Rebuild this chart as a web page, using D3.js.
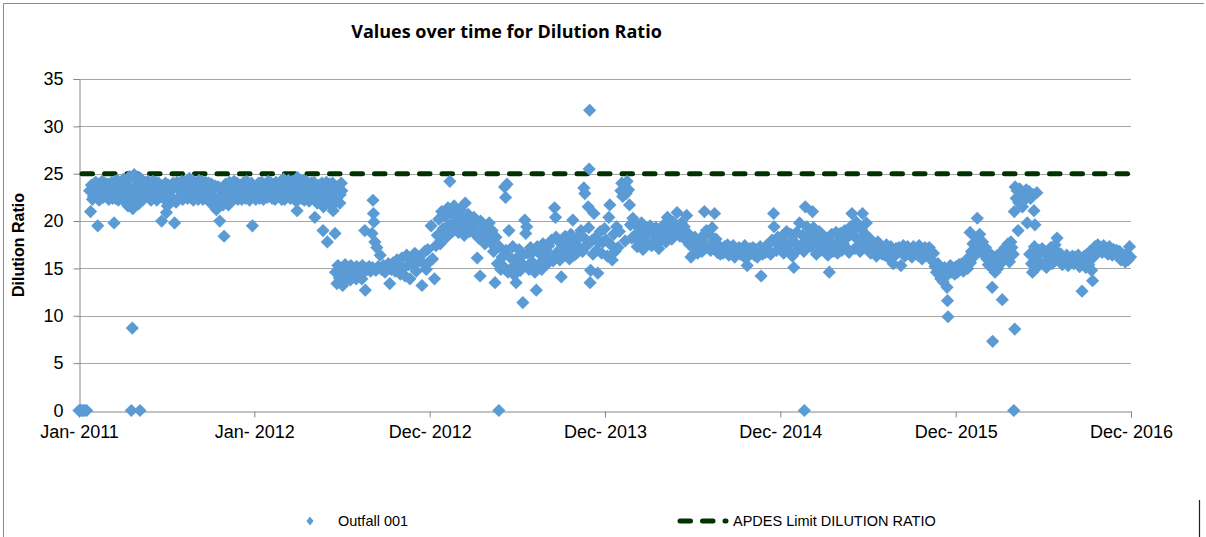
<!DOCTYPE html>
<html><head><meta charset="utf-8">
<script src="https://cdn.jsdelivr.net/npm/d3@7"></script>
<style>body{margin:0;background:#fff;} svg{display:block;}</style>
</head><body><svg id="chart" width="1206" height="537"></svg>
<script>
const chartTitle = "Values over time for Dilution Ratio";
const yAxisTitle = "Dilution Ratio";
const seriesName = "Outfall 001";
const limitName = "APDES Limit DILUTION RATIO";
const limitValue = 25;
const yTickValues = [0, 5, 10, 15, 20, 25, 30, 35];
const xTickDates = ["2011-01-01", "2012-01-01", "2012-12-31", "2013-12-31", "2014-12-31", "2015-12-31", "2016-12-30"];

const data2011 = [["01-01",0],["01-04",0],["01-07",0],["01-10",0],["01-13",0],["01-17",0],["01-23",23.2],["01-25",21.0],["01-27",23.8],["01-31",22.6],
["02-03",24.0],["02-06",22.9],["02-09",19.5],["02-10",23.5],["02-14",22.4],["02-18",24.2],["02-22",23.1],["02-26",22.6],
["03-02",23.9],["03-06",22.7],["03-10",24.1],["03-14",23.0],["03-15",19.8],["03-18",22.4],["03-22",24.3],["03-26",23.4],["03-30",22.5],
["04-03",24.4],["04-07",22.2],["04-10",23.6],["04-13",21.6],["04-16",24.7],["04-19",22.9],["04-20",0],["04-22",8.7],["04-23",21.3],["04-26",24.9],["04-29",22.0],
["05-02",23.8],["05-05",21.8],["05-08",0],["05-09",24.5],["05-13",22.6],["05-17",23.9],["05-21",22.9],["05-25",24.2],["05-29",22.4],
["06-02",23.6],["06-06",22.8],["06-10",24.1],["06-14",22.5],["06-18",23.4],["06-22",20.0],["06-26",22.9],["06-30",24.0],
["07-02",20.9],["07-04",21.6],["07-08",23.2],["07-12",22.3],["07-16",24.0],["07-19",19.8],["07-22",22.0],["07-26",23.5],["07-30",22.6],
["08-03",24.2],["08-07",22.8],["08-11",23.6],["08-15",22.4],["08-19",24.5],["08-23",23.0],["08-27",22.2],["08-31",23.9],
["09-04",22.7],["09-08",24.3],["09-12",23.1],["09-16",22.3],["09-20",23.8],["09-24",22.6],["09-28",24.0],
["10-02",21.9],["10-06",23.4],["10-10",22.2],["10-14",21.2],["10-18",23.6],["10-21",20.0],["10-24",22.8],["10-28",21.7],["10-30",18.4],
["11-02",23.9],["11-06",22.5],["11-08",21.7],["11-10",24.1],["11-14",22.8],["11-18",23.4],["11-22",22.4],["11-26",24.0],["11-30",23.0],
["12-04",22.5],["12-08",23.7],["12-12",22.9],["12-16",24.2],["12-20",22.6],["12-24",23.3],["12-28",19.5],["12-29",22.8]];

const band2011 = [["01-29",22.3],["02-01",23.4],["02-05",24.1],["02-12",22.2],["02-16",23.7],["02-20",22.5],["02-24",24.0],["02-28",23.2],
["03-04",22.3],["03-08",23.5],["03-12",22.4],["03-17",24.2],["03-20",23.0],["03-24",22.2],["03-28",24.0],
["04-01",22.8],["04-05",23.5],["04-09",21.9],["04-11",24.2],["04-15",22.4],["04-17",23.3],["04-25",22.1],["04-27",23.6],
["05-01",22.6],["05-04",24.4],["05-07",22.9],["05-11",23.5],["05-15",22.3],["05-19",24.1],["05-23",22.7],["05-27",23.5],["05-31",22.2],
["06-04",24.2],["06-08",23.0],["06-12",22.2],["06-16",24.0],["06-20",22.6],["06-24",23.7],["06-28",22.3],
["07-06",23.8],["07-10",22.5],["07-14",23.3],["07-18",22.2],["07-24",24.1],["07-28",22.4],
["08-01",23.2],["08-05",22.3],["08-09",24.2],["08-13",23.1],["08-17",22.5],["08-21",23.7],["08-25",24.3],["08-29",22.4],
["09-02",23.5],["09-06",22.3],["09-10",23.6],["09-14",24.2],["09-18",22.5],["09-22",24.1],["09-26",23.0],["09-30",22.3],
["10-04",23.9],["10-08",22.6],["10-12",23.7],["10-16",22.4],["10-20",21.6],["10-26",23.5],
["11-04",22.3],["11-12",23.1],["11-16",22.2],["11-20",24.2],["11-24",22.7],["11-28",22.3],
["12-02",23.8],["12-06",22.3],["12-10",24.1],["12-14",22.4],["12-18",23.5],["12-22",22.2],["12-26",24.0],["12-31",23.5]];

const data2012 = [["01-02",23.4],["01-06",22.6],["01-10",24.0],["01-14",23.1],["01-18",22.5],["01-22",23.8],["01-26",22.9],["01-30",24.2],
["02-03",23.0],["02-07",22.4],["02-11",23.7],["02-15",24.1],["02-19",22.8],["02-23",23.5],["02-27",22.3],
["03-02",24.4],["03-06",23.1],["03-10",22.6],["03-14",24.0],["03-18",22.9],["03-22",23.6],["03-26",22.2],["03-30",21.1],["03-31",24.6],
["04-04",23.0],["04-08",22.4],["04-12",24.3],["04-16",22.8],["04-20",23.6],["04-24",22.1],["04-28",24.0],
["05-02",22.7],["05-06",20.4],["05-07",23.4],["05-11",21.9],["05-15",23.8],["05-19",22.5],["05-23",19.0],["05-24",21.5],["05-28",23.2],
["06-01",17.8],["06-02",22.0],["06-06",23.9],["06-10",21.6],["06-13",21.1],["06-14",23.5],["06-17",18.7],["06-18",14.6],["06-20",22.4],["06-21",13.4],["06-23",15.3],["06-24",23.7],["06-26",14.0],["06-28",22.8],["06-29",15.0],["07-01",23.2],
["07-03",13.2],["07-05",14.8],["07-08",15.4],["07-11",14.2],["07-14",15.1],["07-17",14.6],["07-20",15.3],["07-23",14.4],["07-26",15.0],["07-29",14.7],
["08-01",15.2],["08-04",14.5],["08-07",15.0],["08-10",14.8],["08-13",15.3],["08-16",14.6],["08-18",19.0],["08-19",12.7],["08-21",15.0],["08-24",14.9],["08-27",15.2],["08-30",14.7],
["09-02",18.7],["09-03",15.1],["09-04",22.2],["09-05",20.8],["09-06",19.9],["09-08",17.8],["09-10",14.8],["09-12",17.2],["09-15",15.2],["09-19",16.4],["09-22",14.9],["09-26",15.3],["09-29",14.6],
["10-03",15.0],["10-06",15.5],["10-09",13.4],["10-12",14.9],["10-16",15.6],["10-20",14.7],["10-24",15.9],["10-28",15.2],["10-31",14.4],
["11-03",16.1],["11-06",15.0],["11-10",14.2],["11-13",16.4],["11-17",15.4],["11-20",13.9],["11-24",16.0],["11-27",15.2],["11-30",16.6],
["12-03",14.7],["12-07",15.8],["12-11",16.3],["12-15",13.2],["12-18",15.5],["12-21",16.8],["12-24",14.9],["12-27",17.0],["12-30",15.7]];

const band2012 = [["01-04",22.3],["01-08",23.5],["01-12",22.4],["01-16",24.1],["01-20",22.3],["01-24",23.2],["01-28",22.5],
["02-01",23.6],["02-05",24.0],["02-09",22.5],["02-13",22.3],["02-17",23.3],["02-21",22.6],["02-25",24.2],["02-29",23.3],
["03-04",22.3],["03-08",23.8],["03-12",24.3],["03-16",22.4],["03-20",24.2],["03-24",23.1],["03-28",24.4],
["04-02",22.3],["04-06",23.8],["04-10",22.9],["04-14",22.2],["04-18",24.2],["04-22",23.2],["04-26",22.6],["04-30",23.5],
["05-04",24.1],["05-09",22.3],["05-13",23.0],["05-17",22.2],["05-21",24.0],["05-26",22.3],["05-30",24.1],
["06-04",22.9],["06-08",22.3],["06-12",24.0],["06-16",22.7],["06-22",23.1],["06-27",21.9],["06-30",24.0],
["07-02",13.8],["07-07",13.9],["07-13",14.0],["07-19",13.8],["07-25",14.1],["07-31",13.9],["08-06",14.1],["08-12",13.9]];

const data2013 = [["01-03",19.5],["01-06",16.0],["01-10",13.9],["01-13",17.4],["01-16",18.5],["01-19",20.2],["01-22",17.6],["01-25",21.0],["01-28",19.2],
["02-01",20.5],["02-04",18.3],["02-07",21.4],["02-10",19.6],["02-11",24.2],["02-14",20.8],["02-17",18.9],["02-20",21.6],["02-23",19.9],["02-26",20.6],
["03-01",18.8],["03-04",21.2],["03-07",19.4],["03-10",20.3],["03-13",18.5],["03-15",21.9],["03-18",19.8],["03-21",20.7],["03-24",18.9],["03-27",20.1],["03-30",19.3],
["04-02",20.4],["04-05",18.6],["04-08",19.7],["04-09",16.1],["04-12",18.2],["04-15",14.2],["04-16",20.0],["04-19",18.9],["04-22",19.6],["04-25",17.6],["04-28",19.2],
["05-01",18.4],["05-04",19.8],["05-07",17.7],["05-10",19.0],["05-13",16.8],["05-16",13.5],["05-18",18.3],["05-21",15.5],["05-24",0],["05-25",17.3],["05-28",14.9],["05-31",16.2],
["06-03",15.2],["06-05",23.6],["06-07",22.5],["06-08",16.9],["06-10",23.9],["06-12",14.6],["06-14",19.0],["06-16",16.2],["06-19",15.0],["06-22",17.3],["06-25",14.3],["06-28",16.0],["06-29",13.5],
["07-02",15.6],["07-05",17.0],["07-08",14.8],["07-11",16.3],["07-13",11.4],["07-15",15.3],["07-17",20.1],["07-19",18.7],["07-21",19.4],["07-23",16.6],["07-26",14.9],["07-29",17.2],
["08-01",15.7],["08-04",16.8],["08-07",14.6],["08-10",12.7],["08-12",17.3],["08-15",15.4],["08-18",16.5],["08-21",14.9],["08-24",17.6],["08-27",15.8],["08-30",16.9],
["09-02",15.5],["09-05",17.4],["09-08",16.2],["09-11",18.0],["09-14",15.8],["09-17",21.4],["09-19",20.4],["09-20",18.3],["09-22",16.7],["09-25",17.9],["09-28",15.9],
["10-01",14.1],["10-03",17.5],["10-06",16.3],["10-09",18.4],["10-12",16.9],["10-15",17.8],["10-18",16.0],["10-21",18.6],["10-24",17.1],["10-25",20.1],["10-28",16.4],["10-31",18.0],
["11-02",16.6],["11-05",18.3],["11-08",17.2],["11-11",19.0],["11-14",16.8],["11-17",23.5],["11-19",22.9],["11-20",18.1],["11-23",17.4],["11-26",21.5],["11-27",19.3],["11-28",25.5],["11-29",31.7],["11-30",13.5],
["12-01",14.8],["12-03",17.9],["12-06",16.5],["12-08",20.8],["12-10",18.2],["12-13",16.9],["12-16",14.5],["12-18",17.7],["12-21",18.9],["12-24",16.6],["12-27",17.8],["12-30",19.2]];

const data2014 = [["01-02",18.0],["01-05",16.3],["01-08",20.4],["01-10",21.7],["01-12",17.5],["01-15",15.9],["01-18",18.6],["01-21",16.8],["01-24",19.4],["01-27",17.2],["01-30",18.9],
["02-02",23.2],["02-04",24.0],["02-06",22.6],["02-09",23.8],["02-11",17.9],["02-13",22.9],["02-15",24.2],["02-18",23.3],["02-20",21.7],["02-22",19.6],["02-25",18.2],["02-27",20.3],
["03-02",18.4],["03-05",19.6],["03-08",17.3],["03-11",18.9],["03-14",17.8],["03-17",19.8],["03-20",17.0],["03-23",18.5],["03-26",19.2],["03-29",17.6],
["04-01",18.7],["04-04",19.5],["04-07",17.4],["04-10",18.9],["04-13",17.9],["04-16",19.3],["04-19",18.2],["04-22",17.1],["04-25",19.0],["04-28",18.0],
["05-01",18.5],["05-04",19.7],["05-07",17.8],["05-10",20.4],["05-13",18.8],["05-16",19.5],["05-19",18.1],["05-22",19.9],["05-25",18.6],["05-28",19.2],["05-30",20.9],
["06-02",19.3],["06-05",18.4],["06-08",19.8],["06-11",18.9],["06-14",19.4],["06-17",18.0],["06-19",20.6],["06-22",18.7],["06-25",17.5],["06-28",16.2],["06-30",17.9],
["07-03",16.5],["07-06",18.3],["07-09",17.1],["07-12",16.6],["07-15",18.0],["07-18",17.3],["07-21",16.8],["07-24",18.5],["07-26",21.0],["07-28",17.6],["07-30",19.0],
["08-02",17.2],["08-05",18.6],["08-08",16.9],["08-11",19.3],["08-14",17.7],["08-16",20.8],["08-19",18.1],["08-22",16.7],["08-25",17.4],["08-28",16.5],["08-31",17.0],
["09-03",16.6],["09-06",17.3],["09-09",16.9],["09-12",17.5],["09-15",16.4],["09-18",17.1],["09-21",16.8],["09-24",17.4],["09-27",16.2],["09-30",17.0],
["10-03",16.7],["10-06",17.2],["10-09",16.5],["10-12",17.0],["10-15",16.3],["10-18",17.4],["10-21",16.1],["10-23",15.3],["10-26",16.8],["10-29",17.1],
["11-01",16.6],["11-04",17.2],["11-07",16.4],["11-10",17.0],["11-13",16.2],["11-16",16.9],["11-19",17.3],["11-21",14.2],["11-24",16.5],["11-27",17.1],["11-30",16.7],
["12-02",17.4],["12-05",16.8],["12-08",17.6],["12-11",16.5],["12-14",18.0],["12-17",20.8],["12-18",19.4],["12-20",17.9],["12-23",16.9],["12-26",18.3],["12-29",17.5]];

const data2015 = [["01-01",17.2],["01-04",18.4],["01-07",16.6],["01-10",17.8],["01-13",18.9],["01-16",16.9],["01-19",17.5],["01-22",18.6],["01-25",16.3],["01-28",15.1],["01-31",17.7],
["02-03",18.8],["02-06",17.0],["02-09",19.8],["02-12",17.4],["02-15",18.5],["02-18",16.8],["02-19",0],["02-21",21.5],["02-24",19.4],["02-27",17.9],
["03-02",18.7],["03-05",17.3],["03-08",21.0],["03-10",19.3],["03-13",18.0],["03-16",16.5],["03-19",17.8],["03-22",18.9],["03-25",16.9],["03-28",17.6],["03-31",18.4],
["04-03",17.0],["04-06",18.2],["04-09",16.4],["04-12",14.6],["04-14",17.7],["04-17",18.6],["04-20",16.8],["04-23",17.5],["04-26",18.8],["04-29",16.6],
["05-02",17.9],["05-05",18.7],["05-08",16.9],["05-11",17.6],["05-14",19.0],["05-17",17.2],["05-20",18.3],["05-23",16.7],["05-26",19.4],["05-29",20.8],
["06-01",18.5],["06-04",17.1],["06-07",19.9],["06-09",19.4],["06-12",18.0],["06-15",16.8],["06-18",19.1],["06-20",20.8],["06-23",17.5],["06-26",18.6],["06-28",19.8],
["07-01",17.3],["07-04",18.2],["07-07",16.6],["07-10",17.7],["07-13",16.9],["07-16",17.4],["07-19",16.3],["07-22",17.8],["07-25",16.7],["07-28",17.2],["07-31",16.5],
["08-03",17.0],["08-06",16.4],["08-09",17.5],["08-12",16.2],["08-15",16.9],["08-18",17.3],["08-21",16.1],["08-23",15.5],["08-26",16.8],["08-29",17.1],
["09-01",16.6],["09-04",17.2],["09-08",15.3],["09-10",16.8],["09-13",17.4],["09-16",16.3],["09-19",16.9],["09-22",17.3],["09-25",16.5],["09-28",17.0],
["10-01",16.2],["10-04",17.3],["10-07",16.6],["10-10",17.1],["10-13",16.4],["10-16",17.4],["10-19",16.7],["10-22",16.0],["10-25",16.9],["10-28",17.2],["10-31",16.5],
["11-03",16.9],["11-06",17.2],["11-09",16.4],["11-12",15.8],["11-15",16.6],["11-18",15.2],["11-21",14.6],["11-24",15.5],["11-27",14.3],["11-30",13.9],
["12-02",14.8],["12-05",13.6],["12-08",15.1],["12-11",14.2],["12-13",13.0],["12-14",11.6],["12-15",9.9],["12-17",14.5],["12-20",15.3],["12-23",14.6],["12-26",15.0],["12-29",14.4]];

const data2016 = [["01-01",15.2],["01-04",14.6],["01-07",15.4],["01-10",14.9],["01-13",15.5],["01-16",14.7],["01-19",15.3],["01-22",15.8],["01-25",15.0],["01-28",16.2],["01-30",18.8],["01-31",15.6],
["02-02",16.8],["02-05",17.6],["02-08",16.3],["02-11",18.2],["02-14",20.3],["02-16",17.4],["02-19",18.6],["02-22",16.9],["02-25",17.8],["02-28",16.4],
["03-02",17.2],["03-05",16.0],["03-08",15.4],["03-11",16.6],["03-14",15.1],["03-16",13.0],["03-17",7.3],["03-19",15.8],["03-22",14.6],["03-25",16.3],["03-28",15.0],["03-31",16.1],
["04-02",15.5],["04-05",16.8],["04-06",11.7],["04-09",15.9],["04-12",17.2],["04-15",16.4],["04-18",17.6],["04-21",15.7],["04-24",17.8],["04-26",17.2],["04-29",16.5],["04-30",0],
["05-01",21.0],["05-02",8.6],["05-03",23.6],["05-05",22.4],["05-07",23.2],["05-09",19.0],["05-10",22.0],["05-12",23.4],["05-14",21.8],["05-16",22.7],["05-18",21.5],["05-20",23.0],["05-22",22.2],["05-24",22.9],["05-26",23.3],["05-28",19.8],["05-30",22.6],
["06-01",23.1],["06-02",16.5],["06-04",22.4],["06-06",15.5],["06-08",14.6],["06-09",22.8],["06-11",21.1],["06-12",17.3],["06-13",19.6],["06-15",16.2],["06-17",23.0],["06-19",15.2],["06-22",16.9],["06-25",15.6],["06-28",17.1],
["07-01",15.4],["07-04",16.6],["07-07",15.1],["07-10",16.3],["07-13",15.8],["07-16",17.2],["07-19",15.5],["07-22",16.4],["07-25",17.5],["07-29",18.2],["07-31",16.7],
["08-03",15.8],["08-06",16.5],["08-09",15.4],["08-12",16.1],["08-15",15.6],["08-18",16.4],["08-21",15.3],["08-24",16.0],["08-27",15.7],["08-30",16.3],
["09-02",15.5],["09-05",16.2],["09-08",15.8],["09-11",16.4],["09-14",15.2],["09-17",16.0],["09-19",12.6],["09-21",15.6],["09-24",16.3],["09-27",15.1],["09-30",16.5],
["10-03",15.4],["10-06",16.8],["10-09",14.8],["10-11",13.7],["10-13",16.2],["10-16",17.3],["10-19",16.6],["10-22",17.5],["10-25",16.9],["10-28",17.2],["10-31",16.7],
["11-03",17.4],["11-06",16.8],["11-09",17.1],["11-12",16.5],["11-15",17.3],["11-18",16.9],["11-21",16.4],["11-24",17.0],["11-27",16.6],["11-30",16.9],
["12-03",16.3],["12-06",16.8],["12-09",15.9],["12-12",16.5],["12-15",16.1],["12-18",15.7],["12-21",16.6],["12-24",15.9],["12-27",17.3],["12-29",16.2]];

const yearly = [[2011, data2011], [2011, band2011], [2012, data2012], [2012, band2012], [2013, data2013], [2014, data2014], [2015, data2015], [2016, data2016]];
const parse = d3.utcParse("%Y-%m-%d");
const points = [];
yearly.forEach(([yr, arr]) => arr.forEach(([md, v]) => points.push({date: parse(yr + "-" + md), value: v})));

const svg = d3.select("#chart");
const W = 1206, H = 537;
const plot = {left: 79, right: 1131, top: 79, bottom: 410.5};

const tickDates = xTickDates.map(parse);
const x = d3.scaleUtc().domain([tickDates[0], tickDates[tickDates.length - 1]]).range([plot.left, plot.right]);
const y = d3.scaleLinear().domain([0, 35]).range([plot.bottom, plot.top]);

svg.append("rect").attr("width", W).attr("height", H).attr("fill", "#fff");
svg.append("path").attr("d", "M3.5,537 V3.5 H1204").attr("fill", "none").attr("stroke", "#8c8c8c").attr("stroke-width", 1);
svg.append("line").attr("x1", 1199.5).attr("x2", 1199.5).attr("y1", 500).attr("y2", 537).attr("stroke", "#222").attr("stroke-width", 1.2);

svg.append("g").selectAll("line").data(yTickValues.filter(v => v > 0)).join("line")
  .attr("x1", plot.left).attr("x2", plot.right)
  .attr("y1", d => Math.round(y(d)) + 0.5).attr("y2", d => Math.round(y(d)) + 0.5)
  .attr("stroke", "#a6a6a6").attr("stroke-width", 1);

const yAxis = d3.axisLeft(y).tickValues(yTickValues).tickSize(6).tickPadding(10).tickFormat(d3.format("d"));
const gy = svg.append("g").attr("transform", `translate(${plot.left + 0.5},0)`).call(yAxis);
gy.select(".domain").attr("stroke", "#868686");
gy.selectAll(".tick line").attr("stroke", "#868686");
gy.selectAll(".tick text").attr("font-family", "'Liberation Sans', Arial, sans-serif").attr("font-size", 18).attr("fill", "#000");

const xAxis = d3.axisBottom(x).tickValues(tickDates).tickSize(6).tickPadding(8).tickFormat(d3.utcFormat("%b- %Y"));
const gx = svg.append("g").attr("transform", `translate(0,${Math.round(plot.bottom) + 0.5})`).call(xAxis);
gx.select(".domain").attr("stroke", "#868686");
gx.selectAll(".tick line").attr("stroke", "#868686");
gx.selectAll(".tick text").attr("font-family", "'Liberation Sans', Arial, sans-serif").attr("font-size", 18).attr("fill", "#000");

const limitColor = "#003300";
svg.append("line")
  .attr("x1", x(tickDates[0]) + 3).attr("x2", x(tickDates[tickDates.length - 1]) - 2)
  .attr("y1", y(limitValue)).attr("y2", y(limitValue))
  .attr("stroke", limitColor).attr("stroke-width", 5).attr("stroke-linecap", "round")
  .attr("stroke-dasharray", "10.5 12");

const blue = "#5b9bd5";
const r = 6.6;
const diamond = `M0,${-r}L${r},0L0,${r}L${-r},0Z`;
svg.append("g").selectAll("path").data(points).join("path")
  .attr("d", diamond)
  .attr("transform", d => `translate(${x(d.date)},${y(d.value)})`)
  .attr("fill", blue);

svg.append("text").attr("x", 506.5).attr("y", 38).attr("text-anchor", "middle")
  .attr("font-family", "'Open Sans', Lato, sans-serif").attr("font-weight", "bold").attr("font-size", 18)
  .attr("fill", "#000").text(chartTitle);

svg.append("text").attr("transform", "translate(24,245) rotate(-90)").attr("text-anchor", "middle")
  .attr("font-family", "'Liberation Sans', Arial, sans-serif").attr("font-weight", "bold").attr("font-size", 16)
  .attr("fill", "#000").text(yAxisTitle);

const lg = svg.append("g").attr("font-family", "'Liberation Sans', Arial, sans-serif").attr("font-size", 14.5).attr("fill", "#000");
lg.append("path").attr("d", "M0,-4.5L3.5,0L0,4.5L-3.5,0Z").attr("transform", "translate(310,521)").attr("fill", blue);
lg.append("text").attr("x", 338).attr("y", 526).text(seriesName);
lg.append("line").attr("x1", 680).attr("x2", 726).attr("y1", 521).attr("y2", 521)
  .attr("stroke", limitColor).attr("stroke-width", 5).attr("stroke-linecap", "round").attr("stroke-dasharray", "10.5 12");
lg.append("text").attr("x", 733).attr("y", 526).text(limitName);
</script>
</body></html>
